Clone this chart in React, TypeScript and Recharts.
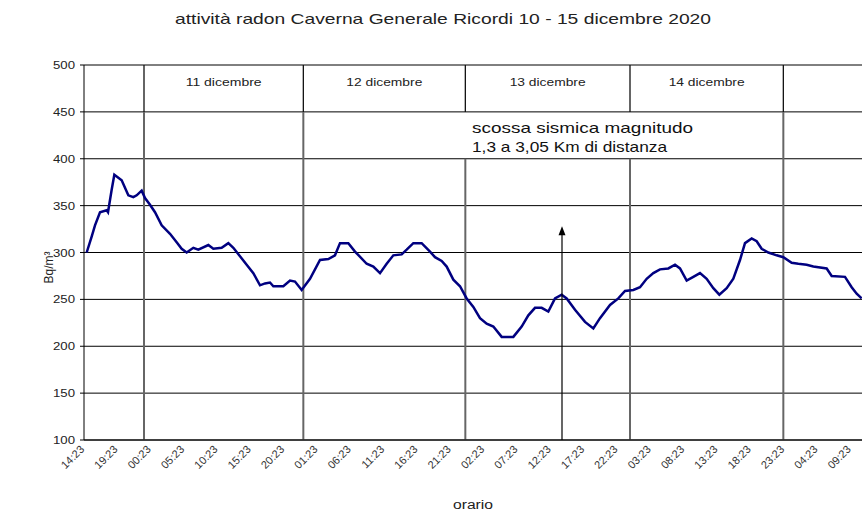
import {
  LineChart, Line, XAxis, YAxis, CartesianGrid, ReferenceLine, ReferenceArea,
} from 'recharts'

// hours elapsed since 10 dicembre 14:23, with the radon activity (Bq/m3)
const HOURS = [
  0.4, 1.15, 1.65, 2.4, 3.4, 3.6, 4.15, 4.55, 5.65, 6.65, 7.4, 7.9, 8.65, 9.15, 9.9,
  10.65, 11.65, 12.9, 13.9, 14.65, 15.4, 16.4, 17.15, 18.65, 19.4, 20.65, 21.65, 22.4,
  23.4, 24.4, 25.4, 26.4, 27.15, 27.9, 28.4, 29.9, 30.9, 31.65, 32.65, 33.9, 35.4,
  36.65, 37.65, 38.4, 39.65, 40.65, 42.4, 43.4, 44.4, 45.4, 46.4, 47.65, 48.4, 49.4,
  50.65, 51.9, 52.65, 53.65, 54.4, 55.4, 56.4, 57.4, 58.4, 59.4, 60.4, 61.4, 62.65,
  64.4, 65.65, 66.65, 67.65, 68.65, 69.65, 70.65, 71.65, 72.4, 73.65, 75.15, 76.4,
  77.4, 78.9, 80.15, 81.15, 82.4, 83.4, 84.4, 85.4, 86.4, 87.65, 88.65, 89.4, 90.4,
  91.4, 92.4, 93.4, 94.4, 95.3, 96.4, 97.4, 98.4, 99.15, 100.15, 100.9, 101.65, 102.65,
  103.9, 104.9, 106.15, 107.15, 108.4, 109.4, 111.4, 112.15, 114.15, 115.15, 115.9, 116.65,
]
const RADON = [
  300, 317, 329, 343, 345, 343, 367, 383, 377, 361, 359, 361, 366, 358, 351,
  343, 329, 320, 311, 304, 300, 305, 303, 308, 304, 305, 310, 305,
  296, 287, 278, 265, 267, 268, 264, 264, 270, 269, 260, 272, 292,
  293, 297, 310, 310, 301, 288, 285, 278, 288, 297, 298, 303, 310,
  310, 301, 295, 291, 285, 271, 264, 251, 242, 230, 224, 221, 210,
  210, 221, 233, 241, 241, 237, 251, 255, 251, 239, 226, 219,
  230, 244, 251, 259, 260, 263, 272, 278, 282, 283, 287, 283, 270,
  274, 278, 272, 262, 255, 262, 272, 292, 310, 315, 312, 304, 300,
  297, 295, 289, 288, 287, 285, 283, 275, 274, 263, 256, 251,
]

// labels every 5 hours, tick marks every 6 hours
const LABEL_HOURS = [0, 5, 10, 15, 20, 25, 30, 35, 40, 45, 50, 55, 60, 65, 70, 75, 80, 85, 90, 95, 100, 105, 110, 115]
const LABEL_TEXT = [
  '14:23', '19:23', '00:23', '05:23', '10:23', '15:23', '20:23', '01:23', '06:23', '11:23', '16:23', '21:23',
  '02:23', '07:23', '12:23', '17:23', '22:23', '03:23', '08:23', '13:23', '18:23', '23:23', '04:23', '09:23',
]
const MARK_HOURS = [0, 6, 12, 18, 24, 30, 36, 42, 48, 54, 60, 66, 72, 78, 84, 90, 96, 102, 108, 114]
const Y_TICKS = [100, 150, 200, 250, 300, 350, 400, 450, 500]

const DAY_LINES = [9, 32.9, 57.2, 81.9, 104.9]
const DAY_LINE_TOP = [450, 450, 400, 400, 450] // the two under the note stop below it
const DAY_NAMES = ['11 dicembre', '12 dicembre', '13 dicembre', '14 dicembre']

const QUAKE_HOUR = 71.7
const QUAKE_TEXT = ['scossa sismica magnitudo', '1,3 a 3,05 Km di distanza']

const data = HOURS.map((h, i) => ({ h, v: RADON[i] }))

function HourTick({ x, y, payload }: any) {
  const i = LABEL_HOURS.indexOf(payload.value)
  const ax = x + 1
  const ay = y + 3
  return (
    <text x={ax} y={ay} transform={`rotate(-45 ${ax} ${ay})`} textAnchor="end" fontSize={11} fill="#333">
      {LABEL_TEXT[i]}
    </text>
  )
}

function ValueTick({ x, y, payload }: any) {
  return (
    <text x={x} y={y} dy={4} textAnchor="end" fontSize={11} fill="#222" textLength={22} lengthAdjust="spacingAndGlyphs">
      {payload.value}
    </text>
  )
}

function QuakeArrow({ x1, y1, y2 }: any) {
  const top = Math.min(y1, y2)
  const bottom = Math.max(y1, y2)
  return (
    <g>
      <line x1={x1} y1={bottom} x2={x1} y2={top + 6} stroke="#000" strokeWidth={1.2} />
      <path d={`M${x1},${top} L${x1 - 3.5},${top + 9} L${x1 + 3.5},${top + 9} Z`} fill="#000" />
    </g>
  )
}

function QuakeNote({ viewBox }: any) {
  return (
    <g fontSize={15} fill="#111">
      <text x={viewBox.x} y={viewBox.y + 21} textLength={221} lengthAdjust="spacingAndGlyphs">{QUAKE_TEXT[0]}</text>
      <text x={viewBox.x} y={viewBox.y + 40} textLength={195} lengthAdjust="spacingAndGlyphs">{QUAKE_TEXT[1]}</text>
    </g>
  )
}

const dayName = (name: string) => ({ viewBox }: any) => (
  <text
    x={viewBox.x + viewBox.width / 2} y={viewBox.y + 21} textAnchor="middle"
    fontSize={11} fill="#222" textLength={76} lengthAdjust="spacingAndGlyphs"
  >{name}</text>
)

const AxisTitle = ({ viewBox }: any) => (
  <text x={viewBox.x + viewBox.width / 2} y={viewBox.y + viewBox.height + 5} textAnchor="middle"
    fontSize={12} fill="#222" textLength={40} lengthAdjust="spacingAndGlyphs">orario</text>
)

const UnitTitle = ({ viewBox }: any) => {
  const cx = 49
  const cy = viewBox.y + viewBox.height / 2 + 15
  return (
    <text x={cx} y={cy} transform={`rotate(-90 ${cx} ${cy})`} textAnchor="middle" dy={4} fontSize={12} fill="#222">
      Bq/m³
    </text>
  )
}

export default function App() {
  return (
    <div style={{ position: 'absolute', left: 0, top: 0, width: 865, height: 514, background: '#fff', fontFamily: '"Liberation Sans", Arial, sans-serif' }}>
      <LineChart width={865} height={514} data={data} margin={{ top: 65, right: 3, bottom: 10, left: 0 }}>
        <CartesianGrid xAxisId="hrs" vertical={false} stroke="#000" strokeWidth={1} />
        <XAxis
          xAxisId="hrs" dataKey="h" type="number" domain={[0, 116.7]} allowDataOverflow
          ticks={MARK_HOURS} interval={0} tick={false} tickSize={4}
          axisLine={{ stroke: '#000' }} tickLine={{ stroke: '#000' }} height={1}
        />
        <XAxis
          xAxisId="lbl" dataKey="h" type="number" domain={[0, 116.7]} allowDataOverflow
          ticks={LABEL_HOURS} interval={0} tick={<HourTick />} tickSize={4} tickMargin={2}
          axisLine={false} tickLine={false} height={63} label={AxisTitle}
        />
        <YAxis
          domain={[100, 500]} ticks={Y_TICKS} interval={0} width={84} tickSize={4} tickMargin={5}
          axisLine={{ stroke: '#000' }} tickLine={{ stroke: '#000' }} tick={<ValueTick />} label={UnitTitle}
        />

        {DAY_LINES.map((h, i) => (
          <ReferenceLine key={`low${i}`} xAxisId="hrs" segment={[{ x: h, y: 100 }, { x: h, y: DAY_LINE_TOP[i] }]} stroke="#666" strokeWidth={2} />
        ))}
        {DAY_LINES.map((h, i) => (
          <ReferenceLine key={`top${i}`} xAxisId="hrs" segment={[{ x: h, y: 450 }, { x: h, y: 500 }]} stroke="#111" strokeWidth={1.3} />
        ))}
        {DAY_NAMES.map((name, i) => (
          <ReferenceArea key={name} xAxisId="hrs" x1={DAY_LINES[i]} x2={DAY_LINES[i + 1]} y1={450} y2={500}
            fill="none" stroke="none" label={dayName(name)} />
        ))}
        <ReferenceArea xAxisId="hrs" x1={58.2} x2={92} y1={400} y2={450} fill="none" stroke="none" label={QuakeNote} />

        <Line
          xAxisId="hrs" type="linear" dataKey="v" stroke="#000080" strokeWidth={2.5}
          dot={false} isAnimationActive={false}
        />
        <ReferenceLine xAxisId="hrs" segment={[{ x: QUAKE_HOUR, y: 100 }, { x: QUAKE_HOUR, y: 328 }]} shape={QuakeArrow} />
      </LineChart>
      <svg width={865} height={40} style={{ position: 'absolute', left: 0, top: 0 }}>
        <text x={443} y={24} textAnchor="middle" fontSize={15} fill="#222" textLength={536} lengthAdjust="spacingAndGlyphs">
          attività radon Caverna Generale Ricordi 10 - 15 dicembre 2020
        </text>
      </svg>
    </div>
  )
}
